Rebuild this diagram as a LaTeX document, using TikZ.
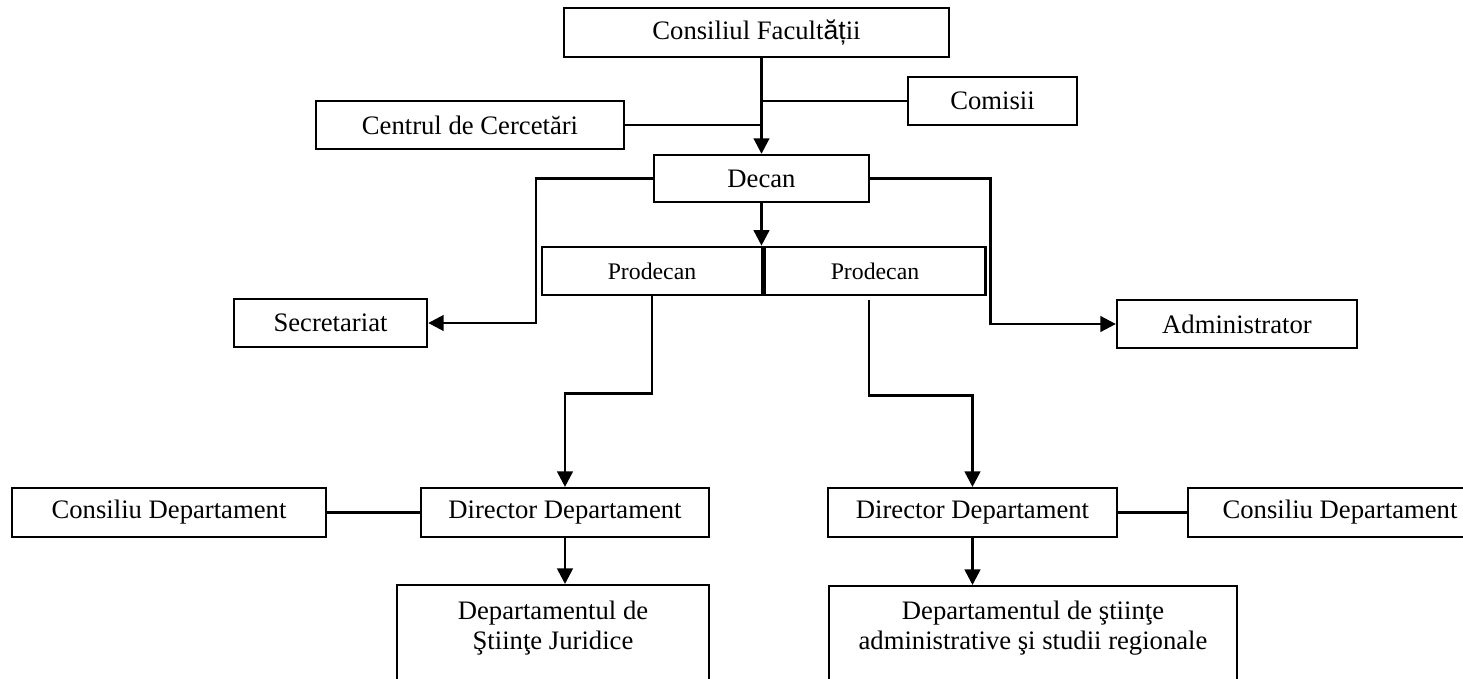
\documentclass[tikz,border=0pt]{standalone}
\usepackage{fontspec}
\setmainfont{Liberation Serif}
\newfontfamily\arialfont{Liberation Sans}
\usetikzlibrary{arrows.meta}

\begin{document}
\begin{tikzpicture}[x = 0.45pt, y = -0.45pt,
    font = \fontsize{12}{13.8}\selectfont,
    box/.style = {draw, line width = 1pt, inner sep = 0pt, minimum height = 21.8pt},
    link/.style = {line width = 1.2pt},
    arr/.style = {line width = 1.2pt, -{Triangle[length = 7pt, width = 7pt]}}]
    \useasboundingbox (0,0) rectangle (1463,678);
    \clip (0,0) rectangle (1463,678);
    % top levels
    \node[box, minimum width = 173.3pt, minimum height = 22pt] (cf) at (756.5,32.5) {Consiliul Facult{\arialfont ăț}ii};
    \node[box, minimum width = 76pt] (comisii) at (992.5,101) {Comisii};
    \node[box, minimum width = 138.6pt] (centrul) at (470,125) {Centrul de Cercetări};
    \node[box, minimum width = 96.8pt, minimum height = 21.2pt] (decan) at (761.5,178.5) {Decan};
    \node[box, minimum width = 99pt, font = \fontsize{10.7}{12}\selectfont] (prodl) at (652,271) {Prodecan};
    \node[box, minimum width = 99.5pt, font = \fontsize{10.7}{12}\selectfont] (prodr) at (875,271) {Prodecan};
    \node[box, minimum width = 86.9pt] (secr) at (330.5,323) {Secretariat};
    \node[box, minimum width = 108pt] (admin) at (1237,324) {Administrator};
    % departments
    \node[box, minimum width = 129.6pt, minimum height = 22pt] (dirl) at (565,512.5) {Director Departament};
    \node[box, minimum width = 141.3pt, minimum height = 22pt] (consl) at (169,512.5) {Consiliu Departament};
    \node[box, minimum width = 130pt, minimum height = 22pt] (dirr) at (972.5,512.5) {Director Departament};
    \node[box, minimum width = 136.8pt, minimum height = 22pt] (consr) at (1340,512.5) {Consiliu Departament};
    \node[box, anchor = north, minimum width = 140.4pt, minimum height = 60pt] (djur) at (553,584) {};
    \node[align = center] (djurtxt) at (553,628) {Departamentul de\\Ştiinţe Juridice};
    \node[box, anchor = north, minimum width = 183.6pt, minimum height = 60pt] (dadm) at (1033,585) {};
    \node[align = center] (dadmtxt) at (1033,628) {Departamentul de ştiinţe\\administrative şi studii regionale};
    % connectors
    \draw[arr] (cf.south -| decan.north) -- (decan.north);
    \draw[link] (comisii.west) -- (comisii.west -| decan.north);
    \draw[link] (centrul.east) -- (centrul.east -| decan.north);
    \draw[arr] (decan.south) -- (decan.south |- prodl.north);
    \draw[arr] (decan.west) -- ++(-117,0) |- (secr.east);
    \draw[arr] (decan.east) -- ++(120,0) |- (admin.west);
    \draw[arr] (prodl.south) -- ++(0,97) -| (dirl.north);
    \draw[arr] ([shift = {(-6,4)}]prodr.south) -- ++(0,95) -| (dirr.north);
    \draw[link] (consl.east) -- (dirl.west);
    \draw[link] (dirr.east) -- (consr.west);
    \draw[arr] (dirl.south) -- (dirl.south |- djur.north);
    \draw[arr] (dirr.south) -- (dirr.south |- dadm.north);
\end{tikzpicture}
\end{document}
